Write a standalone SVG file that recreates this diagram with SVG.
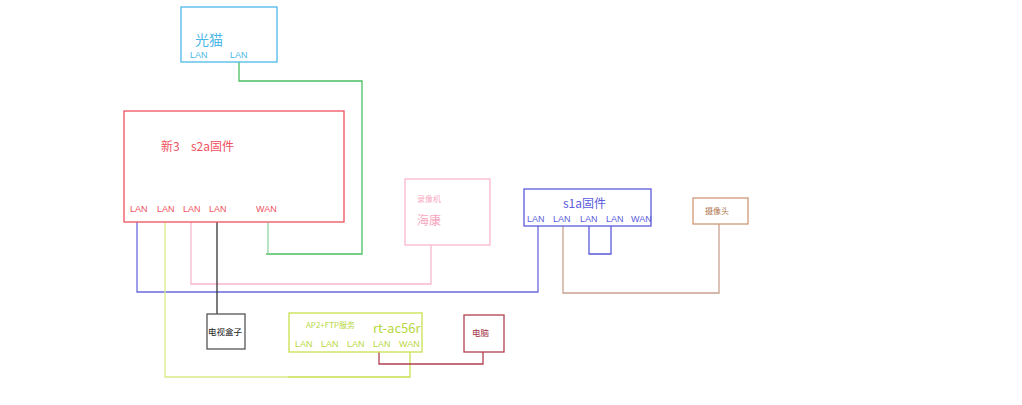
<svg xmlns="http://www.w3.org/2000/svg" width="1022" height="405" viewBox="0 0 1022 405">
<style>
text{font-family:"Liberation Sans","Noto Sans CJK SC",sans-serif;}
.cjk{font-family:"Noto Sans CJK SC","Liberation Sans",sans-serif;}
.p{font-size:9px;}
rect{fill:none;stroke-width:1.3;}
.w{fill:none;stroke-width:1.3;}
</style>
<rect width="1022" height="405" fill="#ffffff" style="stroke:none"/>
<g id="connectors">
<polyline class="w" stroke="#4cbf63" points="239,62 239,81 362,81 362,254 266,254"/>
<line class="w" stroke="#90d4a0" x1="268" y1="222" x2="268" y2="254"/>
<polyline class="w" stroke="#6a6adc" points="137,222 137,292 538,292 538,226"/>
<polyline class="w" stroke="#d8ec88" points="165,222 165,377 288,377"/>
<polyline class="w" stroke="#c8e050" points="288,377 410,377 410,352"/>
<polyline class="w" stroke="#f9b8cc" points="191,222 191,284 431,284 431,245"/>
<line class="w" stroke="#333333" x1="217" y1="222" x2="217" y2="314"/>
<polyline class="w" stroke="#5a5adc" points="589,226 589,254 611,254 611,226"/>
<polyline class="w" stroke="#c8a090" points="563,226 563,293 719,293 719,224"/>
<polyline class="w" stroke="#b04050" points="379,352 379,364 483,364 483,352"/>
</g>
<g id="modem">
<rect x="181" y="7" width="96" height="55" stroke="#4db8e8"/>
<text x="195" y="45" class="cjk" font-size="14" fill="#4db8e8">光猫</text>
<text x="190" y="58" class="p" fill="#4db8e8">LAN</text>
<text x="230" y="58" class="p" fill="#4db8e8">LAN</text>
</g>
<g id="router-s2a">
<rect x="124" y="111" width="220" height="111" stroke="#f05060"/>
<text x="161" y="151" class="cjk" font-size="12" fill="#f05060">新3</text>
<text x="191" y="151" class="cjk" font-size="12" fill="#f05060">s2a固件</text>
<text x="130" y="212" class="p" fill="#f05060">LAN</text>
<text x="157" y="212" class="p" fill="#f05060">LAN</text>
<text x="183" y="212" class="p" fill="#f05060">LAN</text>
<text x="209" y="212" class="p" fill="#f05060">LAN</text>
<text x="256" y="212" class="p" fill="#f05060">WAN</text>
</g>
<g id="nvr">
<rect x="405" y="179" width="85" height="66" stroke="#f9b8cc"/>
<text x="417" y="202" class="cjk" font-size="8" fill="#f9a8c0">录像机</text>
<text x="417" y="225" class="cjk" font-size="12" fill="#f9a8c0">海康</text>
</g>
<g id="router-s1a">
<rect x="524" y="189" width="127" height="37" stroke="#5a5adc"/>
<text x="563" y="208" class="cjk" font-size="12" fill="#5a5adc">s1a固件</text>
<text x="527" y="222" class="p" fill="#5a5adc">LAN</text>
<text x="553" y="222" class="p" fill="#5a5adc">LAN</text>
<text x="580" y="222" class="p" fill="#5a5adc">LAN</text>
<text x="606" y="222" class="p" fill="#5a5adc">LAN</text>
<text x="631" y="222" class="p" fill="#5a5adc">WAN</text>
</g>
<g id="camera">
<rect x="693" y="198" width="55" height="26" stroke="#d09878"/>
<text x="705" y="214" class="cjk" font-size="8" fill="#b07850">摄像头</text>
</g>
<g id="tvbox">
<rect x="207" y="314" width="38" height="35" stroke="#555555"/>
<text x="208" y="335" class="cjk" font-size="8.5" fill="#222222">电视盒子</text>
</g>
<g id="rt-ac56r">
<rect x="289" y="313" width="133" height="39" stroke="#c8e050"/>
<text x="306" y="328" class="cjk" font-size="8" fill="#b8d840">AP2+FTP服务</text>
<text x="373" y="333" class="cjk" font-size="13" fill="#b8d840">rt-ac56r</text>
<text x="295" y="347" class="p" fill="#b8d840">LAN</text>
<text x="321" y="347" class="p" fill="#b8d840">LAN</text>
<text x="347" y="347" class="p" fill="#b8d840">LAN</text>
<text x="373" y="347" class="p" fill="#b8d840">LAN</text>
<text x="399" y="347" class="p" fill="#b8d840">WAN</text>
</g>
<g id="pc">
<rect x="464" y="315" width="40" height="37" stroke="#b04050"/>
<text x="472" y="336" class="cjk" font-size="8.5" fill="#a03040">电脑</text>
</g>
</svg>
